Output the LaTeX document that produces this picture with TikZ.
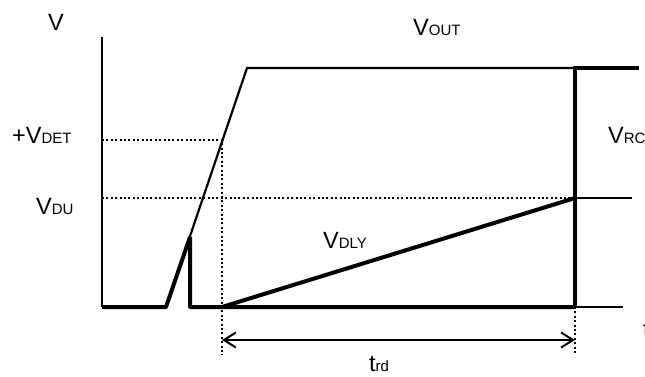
\documentclass[tikz,border=0pt]{standalone}
\usepackage{fontspec}
\setmainfont{Liberation Sans}
\usetikzlibrary{arrows.meta}
\newcommand{\mainsz}{\fontsize{23.5}{27}\selectfont}
\newcommand{\subsz}[1]{{\fontsize{15}{18}\selectfont #1}}
\begin{document}
\begin{tikzpicture}[x=1pt,y=-1pt,
  thinln/.style={line width=2.2pt},
  thickln/.style={line width=4pt},
  dotln/.style={line width=1.8pt,dash pattern=on 2pt off 2.4pt},
  lab/.style={inner sep=0pt,anchor=base west,font=\mainsz}]
\useasboundingbox (0,0) rectangle (645,376);
% coordinates
\coordinate (axtop) at (102,37);
\coordinate (O) at (102,307);
\coordinate (s0) at (166,307);
\coordinate (p) at (190,237);
\coordinate (pb) at (190,307);
\coordinate (knee) at (247,68);
\coordinate (R) at (575,307);
\coordinate (Rtop) at (575,68);
\coordinate (Rend) at (639,68);
\coordinate (base2) at (623,307);
\coordinate (det) at (222,140);
\coordinate (detL) at (102,140);
\coordinate (detB) at (222,355);
\coordinate (du) at (575,198);
\coordinate (duL) at (102,198);
\coordinate (duR) at (632,198);
\coordinate (dly0) at (222,307);
\coordinate (RB) at (575,353);
\coordinate (aL) at (222,340);
\coordinate (aR) at (575,340);
% axis
\draw[thinln] (axtop) -- (O);
% dotted guides
\draw[dotln] (detL) -- (det) -- (detB);
\draw[dotln] (duL) -- (du);
\draw[dotln] (R) -- (RB);
% V_OUT thin
\draw[thinln,line join=miter] (s0) -- (knee) -- (Rtop);
% thin continuations
\draw[thinln] (R) -- (base2);
\draw[thinln] (du) -- (duR);
% thick baseline and pulse
\draw[thickln,line join=bevel] (O) -- (s0) -- (p) -- (pb) -- (R);
% V_RC thick
\draw[thickln,line join=miter] (R) -- (Rtop) -- (Rend);
% V_DLY ramp
\draw[thickln] (dly0) -- (du);
% t_rd arrow
\draw[thinln,{Straight Barb[length=12pt,width=15pt,line width=2pt]}-{Straight Barb[length=12pt,width=15pt,line width=2pt]}] (aL) -- (aR);
% labels
\node[lab] (lV) at (48,30) {V};
\node[lab] (lDET) at (12,143) {+V\subsz{DET}};
\node[lab] (lDU) at (36,214) {V\subsz{DU}};
\node[lab] (lOUT) at (413,35) {V\subsz{OUT}};
\node[lab] (lRC) at (608,143) {V\subsz{RC}};
\node[lab] (lDLY) at (323,248) {V\subsz{DLY}};
\node[lab] (ltrd) at (369,371) {t\subsz{rd}};
\node[lab] (lt) at (643,337) {t};
\end{tikzpicture}
\end{document}
